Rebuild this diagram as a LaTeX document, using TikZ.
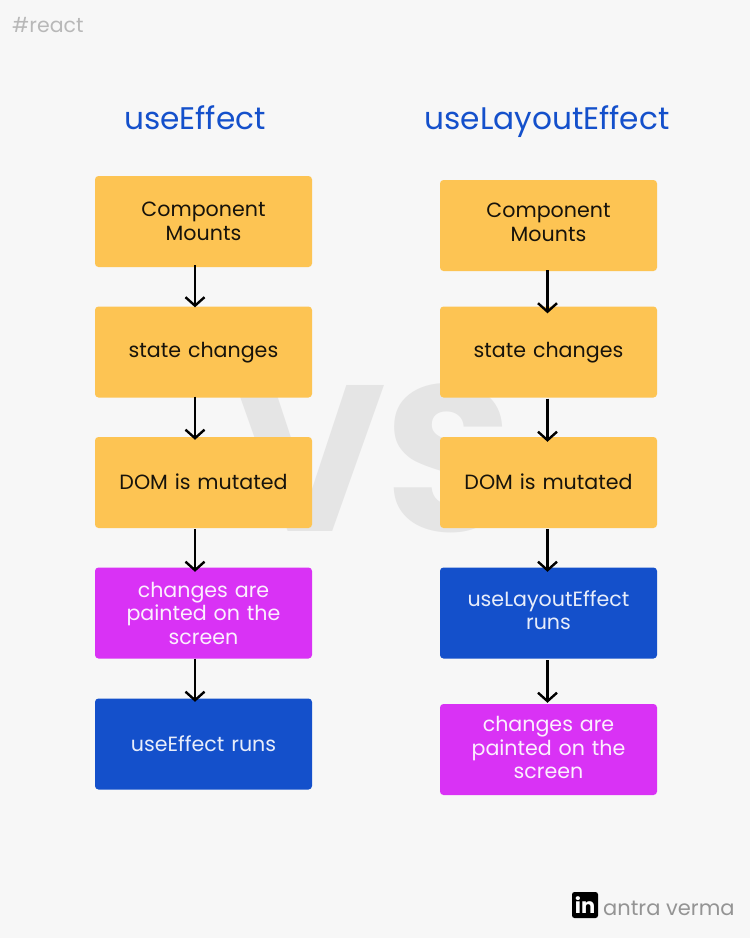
\documentclass[tikz,border=0pt]{standalone}
\usepackage{fontspec}
\setmainfont{Poppins}
\usetikzlibrary{arrows.meta,calc}
\definecolor{bgc}{HTML}{F7F7F7}
\definecolor{amber}{HTML}{FDC453}
\definecolor{violet}{HTML}{D932F5}
\definecolor{royal}{HTML}{1450CB}
\definecolor{ink}{HTML}{17130B}
\tikzset{
  x=1pt,y=-1pt,
  flowbox/.style={rectangle,rounded corners=3.5pt,minimum width=217pt,minimum height=91pt,inner sep=0pt,align=center,text width=190pt,font=\fontsize{20.6pt}{23.5pt}\selectfont},
  warm/.style={flowbox,fill=amber,text=ink},
  pink/.style={flowbox,fill=violet,text=white!92!violet},
  deep/.style={flowbox,fill=royal,text=white!90!royal},
  title/.style={text=royal,font=\fontsize{31.2pt}{36pt}\selectfont,inner sep=0pt,anchor=base},
  flow/.style={draw=black,line width=2.4pt,-{Straight Barb[length=8.5pt,width=19pt,line width=2.4pt]}}
}
\begin{document}
\begin{tikzpicture}
\useasboundingbox (0,0) rectangle (750,938);
\fill[bgc] (0,0) rectangle (750,938);
\node[text=black!10,font=\fontsize{208pt}{208pt}\selectfont\bfseries,inner sep=0pt] (vs) at (374,458) {VS};
\node[text=black!28,font=\fontsize{20.5pt}{24pt}\selectfont,inner sep=0pt,anchor=west] (tag) at (12,25) {\#react};
\node[title] (t1) at (195,129) {useEffect};
\node[title] (t2) at (547,129) {useLayoutEffect};
% left column
\node[warm] (a1) at (203.5,221.5) {Component\\Mounts};
\node[warm] (a2) at (203.5,352) {state changes\par\vspace{-1.5pt}};
\node[warm] (a3) at (203.5,482.5) {DOM is mutated\par\vspace{2pt}};
\node[pink] (a4) at (203.5,613) {changes are\\painted on the\\screen};
\node[deep] (a5) at (203.5,744) {useEffect runs\par\vspace{-2pt}};
% right column
\node[warm] (b1) at (548.5,225.5) {Component\\Mounts\par\vspace{6pt}};
\node[warm] (b2) at (548.5,352) {state changes\par\vspace{-1.5pt}};
\node[warm] (b3) at (548.5,482.5) {DOM is mutated\par\vspace{2pt}};
\node[deep] (b4) at (548.5,613) {useLayoutEffect\\runs\par\vspace{6pt}};
\node[pink] (b5) at (548.5,749.5) {changes are\\painted on the\\screen\par\vspace{4pt}};
% connectors
\draw[flow] ($(a1.south)+(-8.5,-2)$) -- ($(a2.north)+(-8.5,1)$);
\draw[flow] ($(a2.south)+(-8.5,-1)$) -- ($(a3.north)+(-8.5,3)$);
\draw[flow] ($(a3.south)+(-8.5,1)$) -- ($(a4.north)+(-8.5,4.5)$);
\draw[flow] ($(a4.south)+(-8.5,0)$) -- ($(a5.north)+(-8.5,3.5)$);
\draw[flow] ($(b1.south)+(-1,-1)$) -- ($(b2.north)+(-1,7)$);
\draw[flow] ($(b2.south)+(-1,1)$) -- ($(b3.north)+(-1,5)$);
\draw[flow] ($(b3.south)+(-1,1)$) -- ($(b4.north)+(-1,4.5)$);
\draw[flow] ($(b4.south)+(-1,1.5)$) -- ($(b5.north)+(-1,-1)$);
% footer
\node[fill=black,rounded corners=2.5pt,minimum width=26pt,minimum height=26pt,inner sep=0pt,text=white,font=\fontsize{21pt}{21pt}\selectfont\bfseries] (li) at (585,905) {in};
\node[text=black!42,font=\fontsize{21pt}{22pt}\selectfont,inner sep=0pt,anchor=west] (who) at (603,908) {antra verma};
\end{tikzpicture}
\end{document}
